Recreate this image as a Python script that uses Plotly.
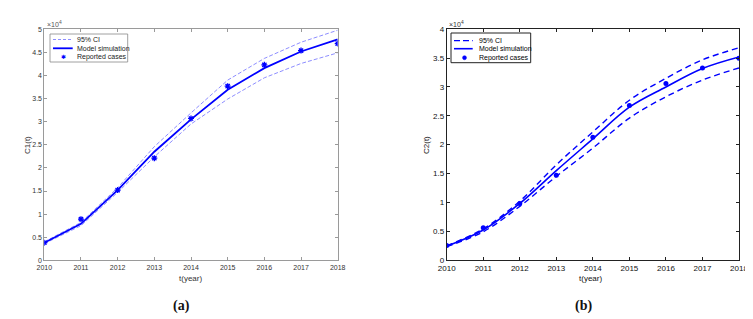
import plotly.graph_objects as go

W, H = 753, 319
OFF = 8  # page body margin offset

years = [2010, 2011, 2012, 2013, 2014, 2015, 2016, 2017, 2018]
year_labels = [str(y) for y in years]

c1_reported = [3800, 8900, 15200, 22100, 30700, 37700, 42300, 45400, 46900]
c1_model = [3800, 7900, 15200, 23500, 30500, 36900, 41600, 45200, 47800]
c1_upper = [4000, 8200, 15700, 24600, 31900, 39000, 43700, 47200, 49800]
c1_lower = [3600, 7500, 14700, 22400, 29500, 34900, 39500, 42600, 44900]

c2_reported = [2500, 5600, 9800, 14700, 21300, 26800, 30600, 33300, 35000]
c2_model = [2400, 5200, 9800, 15500, 21000, 26500, 30000, 33200, 35200]
c2_upper = [2500, 5400, 10200, 16500, 22200, 27700, 31500, 34700, 36800]
c2_lower = [2300, 4900, 9300, 14500, 19400, 24600, 28300, 31200, 33300]

c1_ticks = [0, 5000, 10000, 15000, 20000, 25000, 30000, 35000, 40000, 45000, 50000]
c1_ticktext = ["0", "0.5", "1", "1.5", "2", "2.5", "3", "3.5", "4", "4.5", "5"]
c2_ticks = [0, 5000, 10000, 15000, 20000, 25000, 30000, 35000, 40000]
c2_ticktext = ["0", "0.5", "1", "1.5", "2", "2.5", "3", "3.5", "4"]

legend_labels = ["95% CI", "Model simulation", "Reported cases"]

BLUE = "#0000ff"
LIGHT = "#8080ff"
FONT = "Liberation Sans, Arial, sans-serif"


def px(x):
    return (x - OFF) / W


def py(y):
    return 1 - (y - OFF) / H


def text_at(x, y, text, size, color, **kw):
    d = dict(x=px(x), y=py(y), text=text, showarrow=False, xref="paper", yref="paper",
             xanchor="center", yanchor="middle", font=dict(size=size, color=color))
    d.update(kw)
    return d


fig = go.Figure()

# Left panel (a)
fig.add_trace(go.Scatter(x=years, y=c1_upper, mode="lines", line=dict(color=LIGHT, width=0.9, dash="4px,2px"),
                         xaxis="x", yaxis="y", showlegend=False))
fig.add_trace(go.Scatter(x=years, y=c1_lower, mode="lines", line=dict(color=LIGHT, width=0.9, dash="4px,2px"),
                         xaxis="x", yaxis="y", showlegend=False))
fig.add_trace(go.Scatter(x=years, y=c1_model, mode="lines", line=dict(color=BLUE, width=1.8),
                         xaxis="x", yaxis="y", showlegend=False))
fig.add_trace(go.Scatter(x=years, y=c1_reported, mode="markers",
                         marker=dict(symbol="asterisk", size=5, color=BLUE, line=dict(color=BLUE, width=1.3)),
                         xaxis="x", yaxis="y", showlegend=False))

# Right panel (b)
fig.add_trace(go.Scatter(x=years, y=c2_upper, mode="lines", line=dict(color=BLUE, width=1.4, dash="6px,4px", shape="spline"),
                         xaxis="x2", yaxis="y2", showlegend=False))
fig.add_trace(go.Scatter(x=years, y=c2_lower, mode="lines", line=dict(color=BLUE, width=1.4, dash="6px,4px", shape="spline"),
                         xaxis="x2", yaxis="y2", showlegend=False))
fig.add_trace(go.Scatter(x=years, y=c2_model, mode="lines", line=dict(color=BLUE, width=1.6, shape="spline"),
                         xaxis="x2", yaxis="y2", showlegend=False))
fig.add_trace(go.Scatter(x=years, y=c2_reported, mode="markers",
                         marker=dict(symbol="circle", size=5, color=BLUE),
                         xaxis="x2", yaxis="y2", showlegend=False))

ax_common = dict(showgrid=False, zeroline=False, showline=True, mirror="ticks", ticks="inside",
                 ticklen=3, tickwidth=0.8, fixedrange=True, automargin=False)

fig.update_layout(
    template="none",
    width=W, height=H, margin=dict(l=0, r=0, t=0, b=0, pad=0),
    paper_bgcolor="white", plot_bgcolor="white",
    font=dict(family=FONT, size=7, color="#333"),
    xaxis=dict(domain=[px(44.3), px(337.7)], range=[2010, 2018], tickvals=years, ticktext=year_labels,
               linecolor="#9a9a9a", tickcolor="#9a9a9a", linewidth=0.8, anchor="y",
               tickfont=dict(size=7, color="#333"), **ax_common),
    yaxis=dict(domain=[py(260.3), py(29.3)], range=[0, 50000], tickvals=c1_ticks, ticktext=c1_ticktext,
               linecolor="#9a9a9a", tickcolor="#9a9a9a", linewidth=0.8, anchor="x",
               tickfont=dict(size=7, color="#333"), **ax_common),
    xaxis2=dict(domain=[px(446.7), px(739)], range=[2010, 2018], tickvals=years, ticktext=year_labels,
                linecolor="#222", tickcolor="#222", linewidth=1, anchor="y2",
                tickfont=dict(size=8, color="#111"), **ax_common),
    yaxis2=dict(domain=[py(260), py(29.3)], range=[0, 40000], tickvals=c2_ticks, ticktext=c2_ticktext,
                linecolor="#222", tickcolor="#222", linewidth=1, anchor="x2",
                tickfont=dict(size=8, color="#111"), **ax_common),
)

ann = []
shapes = []
# Axis titles
ann.append(text_at(190, 278.5, "t(year)", 8, "#333"))
ann.append(text_at(590, 278.5, "t(year)", 8, "#111"))
ann.append(text_at(27, 145, "C1(t)", 8, "#333", textangle=-90))
ann.append(text_at(426, 145, "C2(t)", 8, "#111", textangle=-90))
# Exponents
ann.append(text_at(45, 24, "×10<sup>4</sup>", 7, "#555", xanchor="left"))
ann.append(text_at(447, 24, "×10<sup>4</sup>", 7, "#333", xanchor="left"))
# Panel labels
ann.append(text_at(181, 306, "<b>(a)</b>", 14, "#111"))
ann.append(text_at(583, 306, "<b>(b)</b>", 14, "#111"))
for a in ann[-2:]:
    a["font"]["family"] = "Liberation Serif, DejaVu Serif, serif"

# Legend (a)
shapes.append(dict(type="rect", xref="paper", yref="paper", x0=px(50), x1=px(127.7), y0=py(62), y1=py(34),
                   line=dict(color="#888", width=0.8), fillcolor="white", layer="above"))
shapes.append(dict(type="line", xref="paper", yref="paper", x0=px(53), x1=px(72.7), y0=py(39.5), y1=py(39.5),
                   line=dict(color=LIGHT, width=0.9, dash="3px,2px"), layer="above"))
shapes.append(dict(type="line", xref="paper", yref="paper", x0=px(53), x1=px(72.7), y0=py(48.3), y1=py(48.3),
                   line=dict(color=BLUE, width=1.8), layer="above"))
ann.append(text_at(63, 57.3, "✱", 6, BLUE))
for lab, yy in zip(legend_labels, [39.5, 48.3, 57.3]):
    ann.append(text_at(75, yy, lab, 7, "#222", xanchor="left"))

# Legend (b)
shapes.append(dict(type="rect", xref="paper", yref="paper", x0=px(451), x1=px(530.7), y0=py(62.7), y1=py(33),
                   line=dict(color="#222", width=1), fillcolor="white", layer="above"))
shapes.append(dict(type="line", xref="paper", yref="paper", x0=px(454), x1=px(472.7), y0=py(40.7), y1=py(40.7),
                   line=dict(color=BLUE, width=1.2, dash="6px,3px"), layer="above"))
shapes.append(dict(type="line", xref="paper", yref="paper", x0=px(454), x1=px(472.7), y0=py(48.7), y1=py(48.7),
                   line=dict(color=BLUE, width=1.6), layer="above"))
shapes.append(dict(type="circle", xref="paper", yref="paper", x0=px(462.5), x1=px(466.5), y0=py(59.7), y1=py(55.7),
                   line=dict(color=BLUE, width=0.5), fillcolor=BLUE, layer="above"))
for lab, yy in zip(legend_labels, [40.7, 48.7, 57.7]):
    ann.append(text_at(476.5, yy, lab, 7, "#000", xanchor="left"))

fig.update_layout(annotations=ann, shapes=shapes)
fig.write_html("out.html")
